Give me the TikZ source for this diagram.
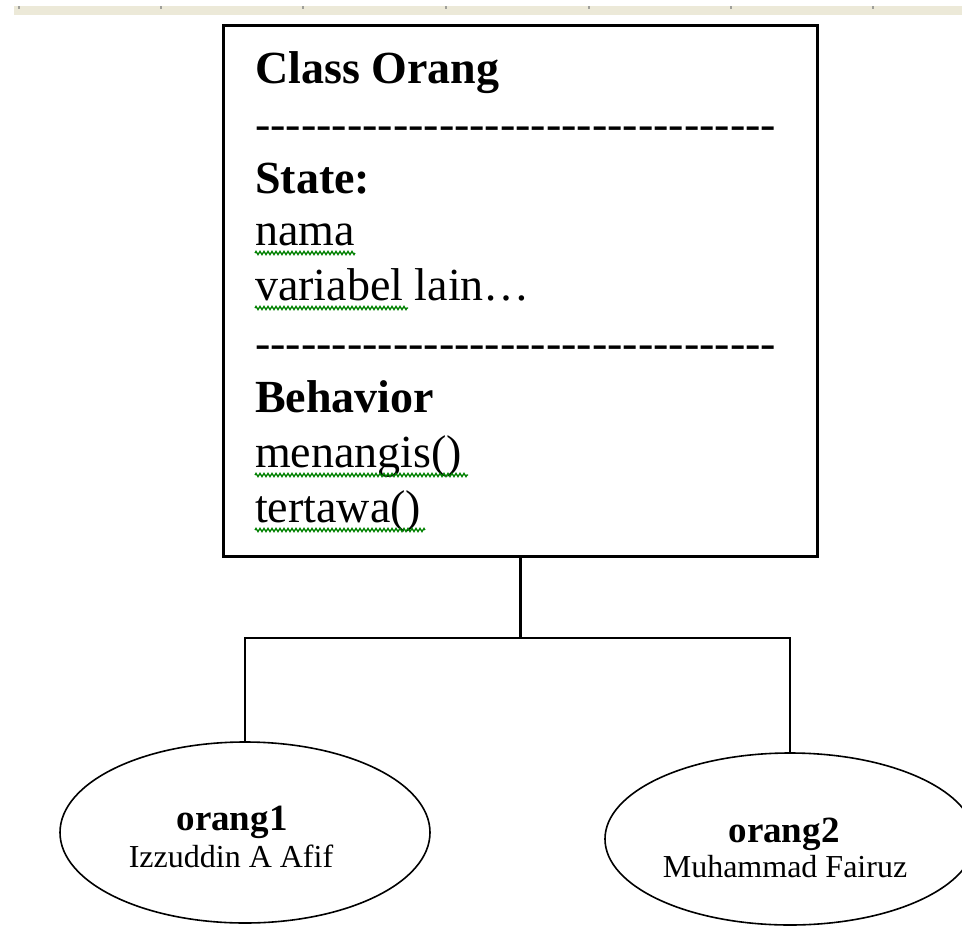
\documentclass[tikz,border=0pt]{standalone}
\usepackage{fontspec}
\setmainfont{Liberation Serif}
\newfontfamily\dashfont{Liberation Serif}[Ligatures=ResetAll]
\usetikzlibrary{shapes.geometric,decorations.pathmorphing}
\definecolor{rulerbg}{HTML}{ECE9D8}
\definecolor{tickgray}{HTML}{A0A09A}
\definecolor{wavegreen}{RGB}{0,128,0}
\begin{document}
\begin{tikzpicture}[x=1pt,y=-1pt,
  txt/.style={anchor=base west, inner sep=0pt, font=\fontsize{46}{55}\selectfont},
  txtb/.style={anchor=base west, inner sep=0pt, font=\fontsize{46}{55}\selectfont\bfseries},
  dashrow/.style={anchor=base west, inner sep=0pt, font=\fontsize{46}{55}\dashfont},
  wavy/.style={draw=wavegreen, line width=1.3pt, decorate, decoration={zigzag, segment length=4pt, amplitude=1.6pt}},
  obj/.style={ellipse, draw, line width=1.6pt, minimum width=370pt, inner sep=0pt},
  namet/.style={anchor=base, inner sep=0pt, font=\fontsize{32}{38}\selectfont},
  nameb/.style={anchor=base, inner sep=0pt, font=\fontsize{37}{42}\selectfont\bfseries},
  link/.style={line width=2.2pt}
]
\useasboundingbox (0,0) rectangle (962,927);
\clip (0,0) rectangle (962,927);
% ruler strip
\fill[rulerbg] (14,6) rectangle (962,15);
\foreach \x in {18,160,302,445,588,730,872}
  \fill[tickgray] (\x,6) rectangle ++(2,3);
% class box
\node[draw, line width=3pt, minimum width=594pt, minimum height=531pt, inner sep=0pt, anchor=north west] (cls) at (222,24) {};
\node[txtb] (t1) at (255,83) {Class Orang};
\node[dashrow] (d1) at (255,139) {-\kern0pt-\kern0pt-\kern0pt-\kern0pt-\kern0pt-\kern0pt-\kern0pt-\kern0pt-\kern0pt-\kern0pt-\kern0pt-\kern0pt-\kern0pt-\kern0pt-\kern0pt-\kern0pt-\kern0pt-\kern0pt-\kern0pt-\kern0pt-\kern0pt-\kern0pt-\kern0pt-\kern0pt-\kern0pt-\kern0pt-\kern0pt-\kern0pt-\kern0pt-\kern0pt-\kern0pt-\kern0pt-\kern0pt-};
\node[txtb] (t2) at (255,193) {State:};
\node[txt] (t3) at (255,245) {nama};
\node[txt] (t4) at (255,300) {variabel lain…};
\node[dashrow] (d2) at (255,358) {-\kern0pt-\kern0pt-\kern0pt-\kern0pt-\kern0pt-\kern0pt-\kern0pt-\kern0pt-\kern0pt-\kern0pt-\kern0pt-\kern0pt-\kern0pt-\kern0pt-\kern0pt-\kern0pt-\kern0pt-\kern0pt-\kern0pt-\kern0pt-\kern0pt-\kern0pt-\kern0pt-\kern0pt-\kern0pt-\kern0pt-\kern0pt-\kern0pt-\kern0pt-\kern0pt-\kern0pt-\kern0pt-\kern0pt-};
\node[txtb] (t5) at (255,412) {Behavior};
\node[txt] (t6) at (255,467) {menangis()};
\node[txt] (t7) at (255,522) {tertawa()};
% spelling underlines
\draw[wavy] (255,253) -- (355,253);
\draw[wavy] (255,308) -- (408,308);
\draw[wavy] (255,475) -- (468,475);
\draw[wavy] (255,530) -- (425,530);
% objects
\node[obj, minimum height=181pt] (o1) at (245,832.5) {};
\node[nameb] (o1n) at (232,830) {orang1};
\node[namet] (o1s) at (231,867) {Izzuddin A Afif};
\node[obj, minimum height=172pt] (o2) at (790,839) {};
\node[nameb] (o2n) at (784,842) {orang2};
\node[namet] (o2s) at (785,877) {Muhammad Fairuz};
% connectors
\draw[link] (cls.south) -- ++(0,80) coordinate (j);
\draw[link] (o1.north) |- (j) -| (o2.north);
\end{tikzpicture}
\end{document}
